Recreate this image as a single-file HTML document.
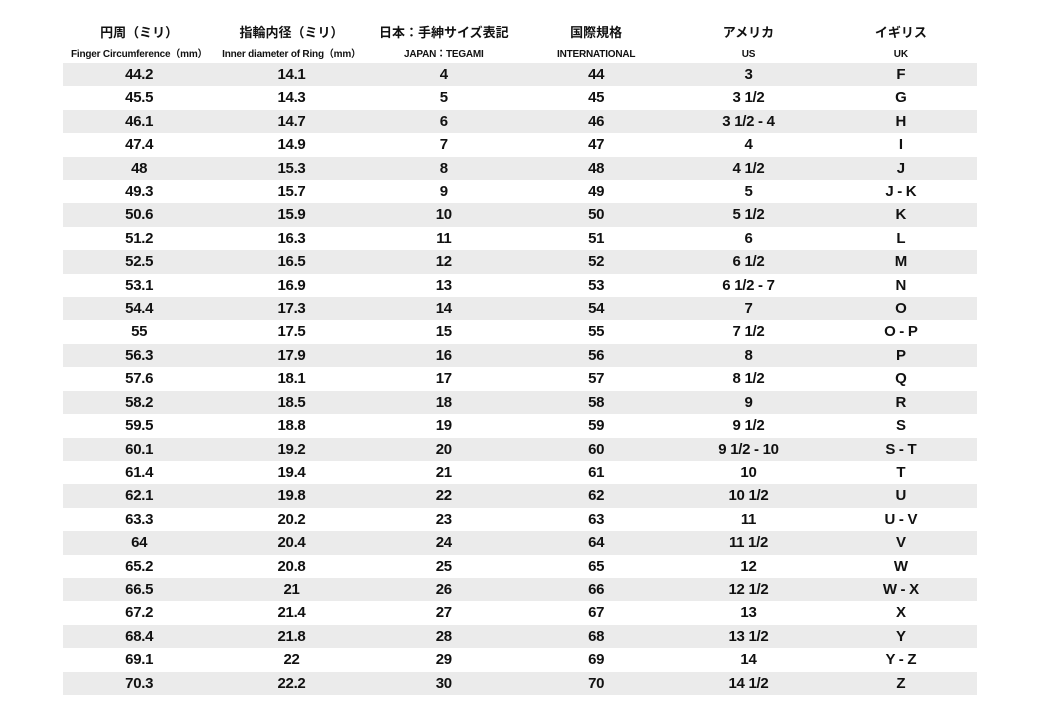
<!DOCTYPE html>
<html><head><meta charset="utf-8"><style>
body{margin:0;width:1040px;height:720px;background:#fff;font-family:"Liberation Sans","Noto Sans CJK JP",sans-serif;color:#111;position:relative;overflow:hidden}
table{position:absolute;left:63px;width:914px;border-collapse:collapse;table-layout:fixed}
td{padding:0;text-align:center;white-space:nowrap}
#hd{top:22px}
#hd tr.a td{font-size:13px;height:21px;line-height:21px;font-weight:bold}
#hd tr.b td{font-size:10px;height:20px;line-height:20px;padding-top:2px;font-weight:bold;letter-spacing:-0.2px}
#bd{top:63px}
#bd td{font-size:15px;height:23.4px;line-height:23.4px;font-weight:bold;letter-spacing:-0.3px}
#bd tr:nth-child(odd){background:#ebebeb}
</style></head><body>
<table id="hd">
<tr class="a"><td>円周（ミリ）</td><td>指輪内径（ミリ）</td><td>日本：手紳サイズ表記</td><td>国際規格</td><td>アメリカ</td><td>イギリス</td></tr>
<tr class="b"><td>Finger Circumference（mm）</td><td>Inner diameter of Ring（mm）</td><td>JAPAN：TEGAMI</td><td>INTERNATIONAL</td><td>US</td><td>UK</td></tr>
</table>
<table id="bd">
<tr><td>44.2</td><td>14.1</td><td>4</td><td>44</td><td>3</td><td>F</td></tr>
<tr><td>45.5</td><td>14.3</td><td>5</td><td>45</td><td>3 1/2</td><td>G</td></tr>
<tr><td>46.1</td><td>14.7</td><td>6</td><td>46</td><td>3 1/2 - 4</td><td>H</td></tr>
<tr><td>47.4</td><td>14.9</td><td>7</td><td>47</td><td>4</td><td>I</td></tr>
<tr><td>48</td><td>15.3</td><td>8</td><td>48</td><td>4 1/2</td><td>J</td></tr>
<tr><td>49.3</td><td>15.7</td><td>9</td><td>49</td><td>5</td><td>J - K</td></tr>
<tr><td>50.6</td><td>15.9</td><td>10</td><td>50</td><td>5 1/2</td><td>K</td></tr>
<tr><td>51.2</td><td>16.3</td><td>11</td><td>51</td><td>6</td><td>L</td></tr>
<tr><td>52.5</td><td>16.5</td><td>12</td><td>52</td><td>6 1/2</td><td>M</td></tr>
<tr><td>53.1</td><td>16.9</td><td>13</td><td>53</td><td>6 1/2 - 7</td><td>N</td></tr>
<tr><td>54.4</td><td>17.3</td><td>14</td><td>54</td><td>7</td><td>O</td></tr>
<tr><td>55</td><td>17.5</td><td>15</td><td>55</td><td>7 1/2</td><td>O - P</td></tr>
<tr><td>56.3</td><td>17.9</td><td>16</td><td>56</td><td>8</td><td>P</td></tr>
<tr><td>57.6</td><td>18.1</td><td>17</td><td>57</td><td>8 1/2</td><td>Q</td></tr>
<tr><td>58.2</td><td>18.5</td><td>18</td><td>58</td><td>9</td><td>R</td></tr>
<tr><td>59.5</td><td>18.8</td><td>19</td><td>59</td><td>9 1/2</td><td>S</td></tr>
<tr><td>60.1</td><td>19.2</td><td>20</td><td>60</td><td>9 1/2 - 10</td><td>S - T</td></tr>
<tr><td>61.4</td><td>19.4</td><td>21</td><td>61</td><td>10</td><td>T</td></tr>
<tr><td>62.1</td><td>19.8</td><td>22</td><td>62</td><td>10 1/2</td><td>U</td></tr>
<tr><td>63.3</td><td>20.2</td><td>23</td><td>63</td><td>11</td><td>U - V</td></tr>
<tr><td>64</td><td>20.4</td><td>24</td><td>64</td><td>11 1/2</td><td>V</td></tr>
<tr><td>65.2</td><td>20.8</td><td>25</td><td>65</td><td>12</td><td>W</td></tr>
<tr><td>66.5</td><td>21</td><td>26</td><td>66</td><td>12 1/2</td><td>W - X</td></tr>
<tr><td>67.2</td><td>21.4</td><td>27</td><td>67</td><td>13</td><td>X</td></tr>
<tr><td>68.4</td><td>21.8</td><td>28</td><td>68</td><td>13 1/2</td><td>Y</td></tr>
<tr><td>69.1</td><td>22</td><td>29</td><td>69</td><td>14</td><td>Y - Z</td></tr>
<tr><td>70.3</td><td>22.2</td><td>30</td><td>70</td><td>14 1/2</td><td>Z</td></tr>
</table>
</body></html>
